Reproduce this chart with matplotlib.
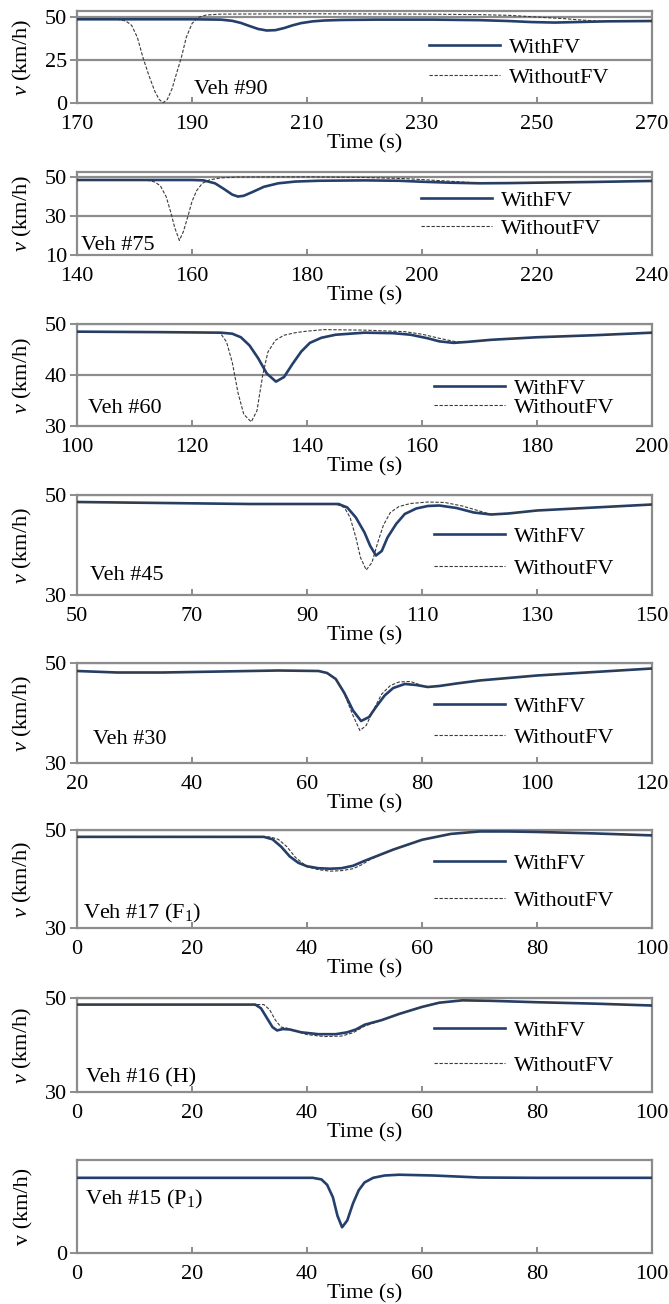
import matplotlib
matplotlib.use("Agg")
import matplotlib.pyplot as plt

plt.rcParams['font.family'] = ['Liberation Serif', 'DejaVu Serif']
plt.rcParams['mathtext.fontset'] = 'custom'
plt.rcParams['mathtext.rm'] = 'Liberation Serif'
plt.rcParams['mathtext.it'] = 'Liberation Serif:italic'

# speed traces (km/h) over time (s), with and without the FV control
t90_with = [170, 190, 195, 197, 198.5, 200, 201.5, 203, 204.5, 206, 207.5, 209, 211, 213, 216, 222, 232, 240, 245, 249, 253, 257, 262, 270]
v90_with = [48.5, 48.5, 48.3, 47.6, 46.4, 44.6, 42.9, 42.0, 42.2, 43.4, 45.0, 46.3, 47.3, 47.8, 48.1, 48.3, 48.3, 48.0, 47.5, 46.9, 46.6, 46.9, 47.3, 47.5]
t90_without = [170, 177, 178.5, 179.5, 180.5, 181.5, 182.5, 183.5, 184.3, 185, 185.7, 186.5, 187.3, 188.2, 189, 190, 191, 192.5, 195, 210, 230, 240, 245, 250, 255, 258, 261, 265, 270]
v90_without = [48.5, 48.5, 47.5, 45, 38, 26, 16, 7, 2, 0.2, 2, 8, 17, 27, 38, 46, 49.5, 51, 51.5, 51.7, 51.5, 51.2, 50.8, 49.8, 48.8, 48, 47.4, 47.3, 47.5]

t75_with = [140, 160, 162, 164, 165.5, 167, 168, 169, 170.5, 172.5, 175, 178, 182, 190, 196, 200, 205, 210, 215, 222, 230, 240]
v75_with = [48.5, 48.5, 48.3, 46.8, 44, 41, 40, 40.4, 42.3, 45, 46.8, 47.7, 48.1, 48.3, 48.1, 47.6, 47.1, 46.8, 46.9, 47.2, 47.5, 48]
t75_without = [140, 152, 153.5, 154.5, 155.5, 156.3, 157, 157.8, 158.5, 159.3, 160, 160.8, 161.8, 163, 165, 168, 180, 190, 197, 203, 208, 212, 215, 222, 230, 240]
v75_without = [48.5, 48.5, 47.5, 45.5, 40, 32, 24, 17.5, 22, 30, 37.5, 43, 46.8, 48.5, 49.6, 50, 50.1, 49.8, 49.2, 48.2, 47.3, 46.8, 46.9, 47.2, 47.5, 48]

t60_with = [100, 115, 125, 127, 128.5, 130, 131.5, 133, 134.6, 136, 137.5, 139, 140.5, 142.5, 145, 150, 155, 158, 161, 163, 165.5, 168, 172, 180, 190, 200]
v60_with = [48.5, 48.4, 48.3, 48.1, 47.4, 45.8, 43.3, 40.3, 38.7, 39.6, 42.2, 44.6, 46.3, 47.3, 47.9, 48.3, 48.2, 47.9, 47.2, 46.6, 46.3, 46.5, 46.9, 47.4, 47.8, 48.3]
t60_without = [100, 115, 124, 125, 126, 127, 128, 129, 130.3, 131.3, 132.3, 133.2, 134.5, 136, 138, 140, 143, 150, 157, 160, 163, 166, 168, 172, 180, 190, 200]
v60_without = [48.5, 48.4, 48.3, 48.1, 46.5, 42.5, 36.5, 32.3, 30.8, 33, 40, 44.5, 46.8, 47.8, 48.3, 48.6, 48.9, 48.8, 48.5, 48, 47.2, 46.5, 46.5, 46.9, 47.4, 47.8, 48.3]

t45_with = [50, 65, 80, 95.5, 97, 98.5, 100, 101, 102, 103, 104, 105.5, 107, 109, 111, 113, 116, 119, 122, 125, 130, 140, 150]
v45_with = [48.6, 48.4, 48.2, 48.2, 47.5, 45.5, 42.5, 39.8, 37.9, 38.8, 41.5, 44.2, 46.2, 47.3, 47.8, 47.9, 47.4, 46.5, 46.1, 46.3, 46.9, 47.5, 48.1]
t45_without = [50, 65, 80, 95, 96.5, 97.5, 98.5, 99.3, 100.3, 101.3, 102.3, 103.3, 104.5, 106, 108, 111, 114, 117, 120, 122, 125, 130, 140, 150]
v45_without = [48.6, 48.4, 48.2, 48.2, 47.5, 45.5, 41.5, 37.5, 35, 36.5, 40.5, 44, 46.5, 47.7, 48.3, 48.6, 48.5, 47.8, 46.8, 46.1, 46.3, 46.9, 47.5, 48.1]

t30_with = [20, 27, 35, 45, 55, 62, 63.5, 65, 66.5, 68, 69.4, 70.8, 72, 73.5, 75, 77, 79, 81, 83, 86, 90, 100, 110, 120]
v30_with = [48.4, 48.1, 48.1, 48.3, 48.5, 48.4, 48, 46.8, 44, 40.5, 38.4, 39.2, 41.2, 43.5, 45, 45.8, 45.6, 45.2, 45.4, 45.9, 46.5, 47.5, 48.2, 48.9]
t30_without = [20, 27, 35, 45, 55, 62, 63.5, 65, 66.5, 68, 69.2, 70.3, 71.5, 73, 74.5, 76, 78, 80, 81, 83, 86, 90, 100, 110, 120]
v30_without = [48.4, 48.1, 48.1, 48.3, 48.5, 48.4, 48, 46.8, 43.8, 39.5, 36.5, 37.5, 40.5, 43.8, 45.5, 46.2, 46.3, 45.5, 45.2, 45.4, 45.9, 46.5, 47.5, 48.2, 48.9]

t17_with = [0, 20, 32.5, 34, 35.5, 37, 38.5, 40, 42, 44, 46, 48, 50, 55, 60, 65, 70, 75, 80, 90, 100]
v17_with = [48.6, 48.6, 48.6, 48.1, 46.6, 44.6, 43.3, 42.6, 42.2, 42.1, 42.2, 42.7, 43.7, 46, 48, 49.2, 49.7, 49.7, 49.6, 49.3, 48.9]
t17_without = [0, 20, 33.5, 35, 36.5, 38, 40, 42, 44, 46, 48, 49.5, 51, 55, 60, 65, 70, 75, 80, 90, 100]
v17_without = [48.6, 48.6, 48.6, 48.1, 46.6, 44.4, 42.5, 41.9, 41.6, 41.7, 42.1, 42.9, 44, 46, 48, 49.2, 49.7, 49.7, 49.6, 49.3, 48.9]

t16_with = [0, 20, 31, 32, 33, 34, 34.8, 35.8, 37, 39, 42, 45, 47, 48.5, 50, 53, 56, 60, 63, 67, 72, 80, 90, 100]
v16_with = [48.6, 48.6, 48.6, 47.8, 45.8, 43.8, 43.1, 43.4, 43.3, 42.7, 42.3, 42.3, 42.7, 43.3, 44.3, 45.3, 46.6, 48.1, 49, 49.5, 49.4, 49.1, 48.8, 48.4]
t16_without = [0, 20, 32.5, 33.5, 34.5, 35.5, 36.5, 38, 40, 43, 46, 48, 50, 53, 56, 60, 63, 67, 72, 80, 90, 100]
v16_without = [48.6, 48.6, 48.6, 47.5, 45.3, 43.8, 43.6, 43, 42.2, 41.8, 41.9, 42.6, 44, 45.3, 46.6, 48.1, 49, 49.5, 49.4, 49.1, 48.8, 48.4]

t15_with = [0, 20, 41, 42.5, 43.5, 44.5, 45.3, 46.1, 47, 48, 49, 50, 51.5, 53.5, 56, 62, 70, 80, 100]
v15_with = [48.5, 48.5, 48.5, 47.5, 44, 36, 24, 16.6, 21, 32, 40.5, 45.5, 48.5, 50, 50.5, 50, 48.7, 48.5, 48.5]

veh_labels = ["Veh #90", "Veh #75", "Veh #60", "Veh #45", "Veh #30",
              "Veh #17 (F$_1$)", "Veh #16 (H)", "Veh #15 (P$_1$)"]
x_starts = [170, 140, 100, 50, 20, 0, 0, 0]
y_ranges = [(0, 53.3), (10, 52.6), (30, 50), (30, 50), (30, 50), (30, 50), (30, 50), (0, 60)]
y_ticks = [[0, 25, 50], [10, 30, 50], [30, 40, 50], [30, 50], [30, 50], [30, 50], [30, 50], [0]]

with_series = [(t90_with, v90_with), (t75_with, v75_with), (t60_with, v60_with), (t45_with, v45_with),
               (t30_with, v30_with), (t17_with, v17_with), (t16_with, v16_with), (t15_with, v15_with)]
without_series = [(t90_without, v90_without), (t75_without, v75_without), (t60_without, v60_without),
                  (t45_without, v45_without), (t30_without, v30_without), (t17_without, v17_without),
                  (t16_without, v16_without), None]

# panel placement in pixels (top, bottom) on a 669 x 1304 canvas
W, H = 669, 1304
ax_left, ax_right = 77, 652
panel_px = [(11, 103), (172, 255), (324, 426), (495, 595), (663, 763), (830, 928), (998, 1092), (1160, 1253)]
label_pos = [(0.203, 0.152), (0.007, 0.12), (0.019, 0.176), (0.023, 0.2),
             (0.028, 0.23), (0.01, 0.153), (0.016, 0.149), (0.014, 0.58)]
legend_pos = [(0.612, 0.44), (0.598, 0.488), (0.621, 0.275), (0.621, 0.425),
              (0.621, 0.41), (0.621, 0.469), (0.621, 0.468)]
legend_gap = [0.44, 0.35, -0.06, 0.53, 0.48, 0.75, 0.66]

navy = '#243f6b'
frame_gray = '#8c8c8c'
fs = 16

fig = plt.figure(figsize=(W / 100, H / 100), dpi=100)

for i in range(8):
    top, bot = panel_px[i]
    ax = fig.add_axes([ax_left / W, 1 - bot / H, (ax_right - ax_left) / W, (bot - top) / H])

    t, v = with_series[i]
    ax.plot(t, v, color=navy, lw=1.9, label='WithFV', zorder=3)
    if without_series[i] is not None:
        t2, v2 = without_series[i]
        ax.plot(t2, v2, color='#3a3a3a', lw=0.8, ls=(0, (3, 1.5)), label='WithoutFV', zorder=4)
        ax.legend(loc='center left', bbox_to_anchor=legend_pos[i], frameon=False,
                  fontsize=fs, handlelength=3.2, handletextpad=0.4,
                  labelspacing=legend_gap[i], borderpad=0, borderaxespad=0)

    x0 = x_starts[i]
    ax.set_xlim(x0, x0 + 100)
    ax.set_xticks(range(x0, x0 + 101, 20))
    ax.set_ylim(*y_ranges[i])
    ax.set_yticks(y_ticks[i])

    for yt in y_ticks[i]:
        if yt != y_ranges[i][0]:
            ax.axhline(yt, color=frame_gray, lw=1.6, zorder=1)

    for s in ax.spines.values():
        s.set_color(frame_gray)
        s.set_linewidth(1.6)

    ax.tick_params(axis='x', direction='in', length=4, width=1.4, color=frame_gray,
                   labelsize=fs, pad=8.5)
    ax.tick_params(axis='y', direction='out', length=5, width=1.4, color=frame_gray,
                   labelsize=fs, pad=2)

    ax.set_xlabel('Time (s)', fontsize=fs, labelpad=0.5)
    ylab = 'v (km/h)' if i == 7 else '$v$ (km/h)'
    ax.set_ylabel(ylab, fontsize=fs)
    ax.yaxis.set_label_coords(-0.075, 0.5)

    ax.text(label_pos[i][0], label_pos[i][1], veh_labels[i], transform=ax.transAxes,
            fontsize=fs, ha='left', va='center')

fig.savefig('out.png', dpi=100)
